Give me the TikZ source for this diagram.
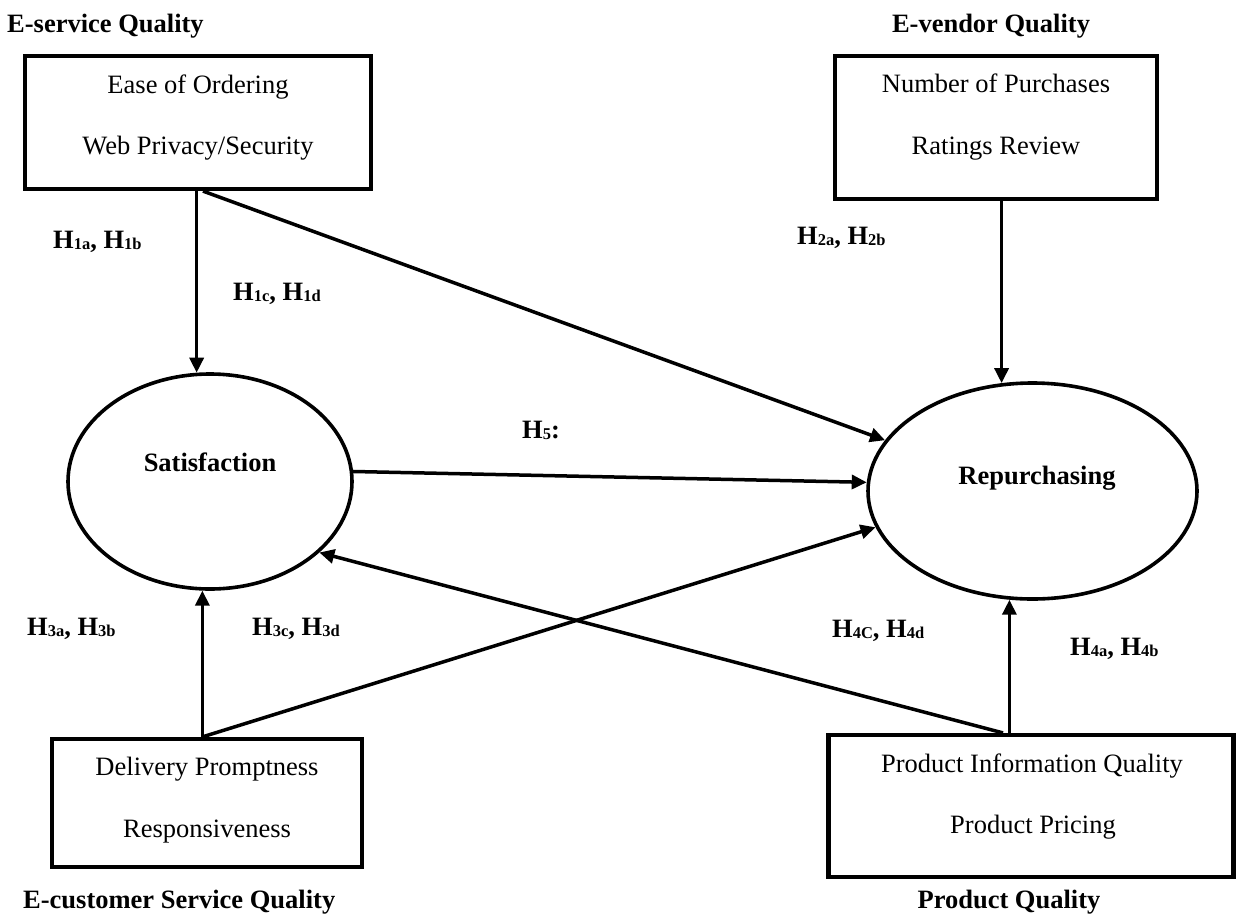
\documentclass[tikz,border=0pt]{standalone}
\usepackage{fontspec}
\setmainfont{Liberation Serif}
\usetikzlibrary{arrows.meta,shapes.geometric}
\newcommand{\hsb}[1]{\raisebox{-1.5pt}{\fontsize{16.5}{17}\selectfont #1}}
\newcommand{\hyp}[2]{H\hsb{#1}, H\hsb{#2}}
\begin{document}
\begin{tikzpicture}[x=1pt,y=-1pt,
  box/.style={draw, line width=4.2pt, inner sep=0pt},
  oval/.style={draw, ellipse, line width=3.6pt, inner sep=0pt},
  txt/.style={inner sep=0pt, anchor=base, font=\fontsize{26.5}{30}\selectfont},
  lbl/.style={inner sep=0pt, anchor=base west, font=\bfseries\fontsize{26.5}{30}\selectfont},
  ttl/.style={inner sep=0pt, anchor=base, font=\bfseries\fontsize{26.5}{30}\selectfont},
  arr/.style={line width=3.5pt, -{Triangle[length=15pt,width=14pt]}}]
\useasboundingbox (0,0) rectangle (1238,916);
\fill[white] (0,0) rectangle (1238,916);

% boxes
\node[box, minimum width=346pt, minimum height=133pt] (b1) at (198,122.5) {};
\node[box, minimum width=322pt, minimum height=143pt] (b2) at (996,127.5) {};
\node[box, minimum width=310pt, minimum height=128pt] (b3) at (207,803) {};
\node[box, minimum width=405pt, minimum height=142pt] (b4) at (1031,806) {};

% ovals
\node[oval, minimum width=284pt, minimum height=215pt] (sat) at (210,481.5) {};
\node[oval, minimum width=329pt, minimum height=216pt] (rep) at (1032.5,491) {};

% box texts
\node[txt] (b1a) at (198,93) {Ease of Ordering};
\node[txt] (b1b) at (198,154) {Web Privacy/Security};
\node[txt] (b2a) at (996,92) {Number of Purchases};
\node[txt] (b2b) at (996,154) {Ratings Review};
\node[txt] (b3a) at (207,775) {Delivery Promptness};
\node[txt] (b3b) at (207,837) {Responsiveness};
\node[txt] (b4a) at (1032,772) {Product Information Quality};
\node[txt] (b4b) at (1033,833) {Product Pricing};

% oval texts
\node[ttl] (satt) at (210,471) {Satisfaction};
\node[ttl] (rept) at (1037,484) {Repurchasing};

% titles
\node[lbl] (t1) at (7,32) {E-service Quality};
\node[ttl] (t2) at (991,32) {E-vendor Quality};
\node[lbl] (t3) at (23,908) {E-customer Service Quality};
\node[ttl] (t4) at (1009,908) {Product Quality};

% hypothesis labels
\node[lbl] (h1ab) at (53,248) {\hyp{1a}{1b}};
\node[lbl] (h1cd) at (233,300) {\hyp{1c}{1d}};
\node[lbl] (h2ab) at (797,244) {\hyp{2a}{2b}};
\node[lbl] (h5) at (522,438) {H\hsb{5}:};
\node[lbl] (h3ab) at (27,635) {\hyp{3a}{3b}};
\node[lbl] (h3cd) at (252,635) {\hyp{3c}{3d}};
\node[lbl] (h4cd) at (832,637) {\hyp{4C}{4d}};
\node[lbl] (h4ab) at (1070,655) {\hyp{4a}{4b}};

% connectors
\draw[arr] (sat.97 |- b1.south) -- (sat.97);
\draw[arr] ([xshift=5pt]b1.south) -- (rep.161);
\draw[arr] (rep.106 |- b2.south) -- (rep.106);
\draw[arr] (sat.4) -- (rep.177);
\draw[arr] (sat.266 |- b3.north) -- (sat.266);
\draw[arr] (sat.266 |- b3.north) -- (rep.193);
\draw[arr] ([xshift=-28pt]b4.north) -- (sat.327);
\draw[arr] (rep.258 |- b4.north) -- (rep.258);
\end{tikzpicture}
\end{document}
